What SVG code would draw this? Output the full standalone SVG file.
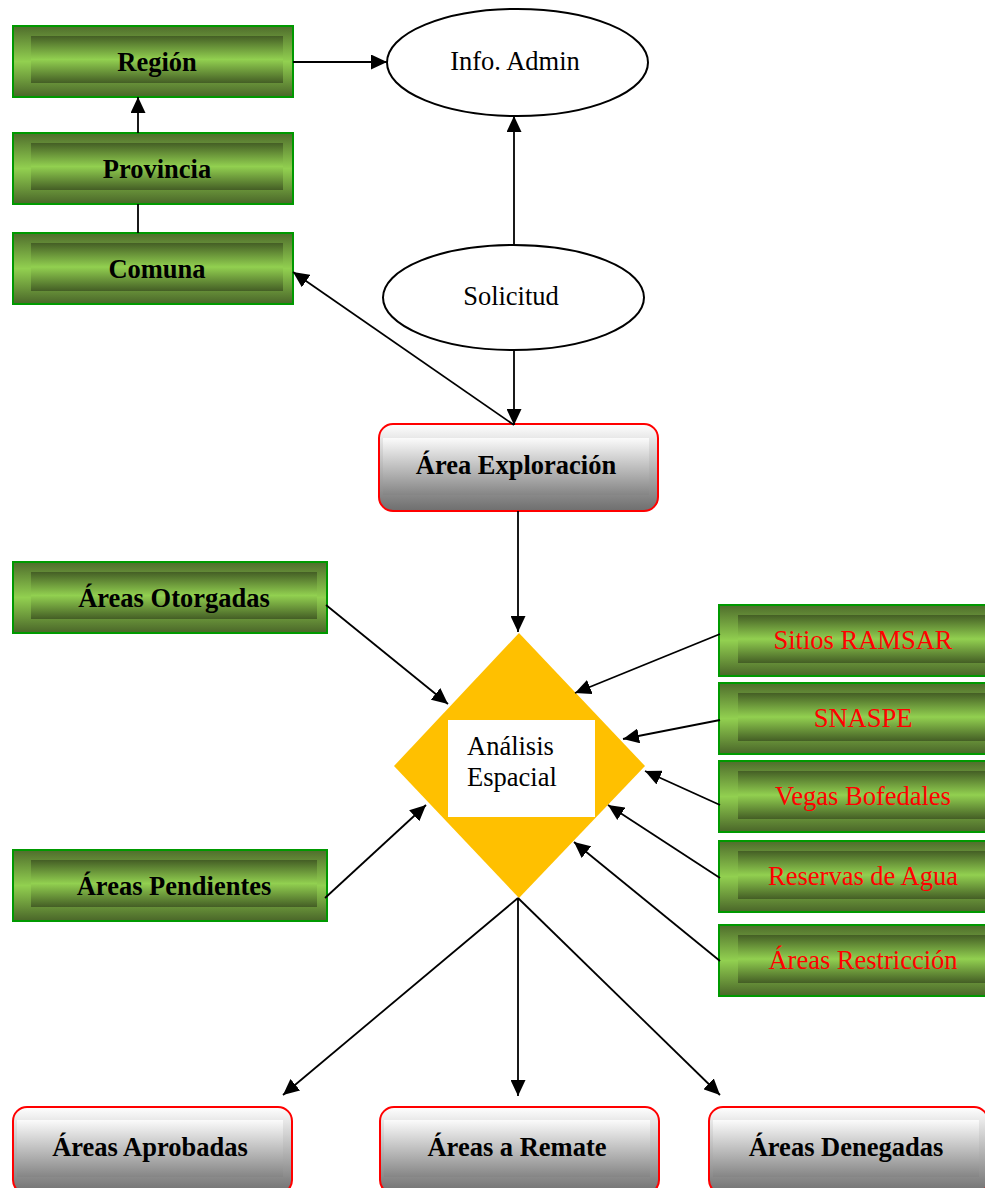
<svg xmlns="http://www.w3.org/2000/svg" width="985" height="1188" viewBox="0 0 985 1188">
  <defs>
    <linearGradient id="gOuter" x1="0" y1="0" x2="0" y2="1">
      <stop offset="0" stop-color="#4f6d2c"/>
      <stop offset="0.5" stop-color="#92d050"/>
      <stop offset="1" stop-color="#4a6629"/>
    </linearGradient>
    <linearGradient id="gInner" x1="0" y1="0" x2="0" y2="1">
      <stop offset="0" stop-color="#445e25"/>
      <stop offset="0.5" stop-color="#92d050"/>
      <stop offset="1" stop-color="#445e25"/>
    </linearGradient>
    <linearGradient id="rOuter" x1="0" y1="0" x2="0" y2="1">
      <stop offset="0" stop-color="#ffffff"/>
      <stop offset="1" stop-color="#6e6e6e"/>
    </linearGradient>
    <linearGradient id="rInner" x1="0" y1="0" x2="0" y2="1">
      <stop offset="0" stop-color="#fbfbfb"/>
      <stop offset="1" stop-color="#858585"/>
    </linearGradient>
    <marker id="arrow" markerUnits="userSpaceOnUse" markerWidth="16" markerHeight="15" refX="16" refY="7.5" orient="auto">
      <path d="M0,0 L16,7.5 L0,15 z" fill="#000"/>
    </marker>
    <style>
      text { font-family: "Liberation Serif", "Times New Roman", serif; font-size: 26.5px; }
      .b { font-weight: bold; fill: #000; }
      .red { fill: #ff0000; }
      .reg { fill: #000; }
      .gOut { fill: url(#gOuter); stroke: #009900; stroke-width: 2; }
      .gIn { fill: url(#gInner); }
      .rOut { fill: url(#rOuter); stroke: #ff0000; stroke-width: 2; }
      .rIn { fill: url(#rInner); }
      .ell { fill: #fff; stroke: #000; stroke-width: 2; }
      .con line { stroke: #000; stroke-width: 1.8; }
      .con .a { marker-end: url(#arrow); }
    </style>
  </defs>

  <rect width="985" height="1188" fill="#fff"/>

  <!-- administrative hierarchy -->
  <g id="region">
    <rect class="gOut" x="13" y="26" width="280" height="71"/>
    <rect class="gIn" x="31" y="36" width="252" height="47"/>
    <text class="b" x="157" y="71" text-anchor="middle">Región</text>
  </g>
  <g id="provincia">
    <rect class="gOut" x="13" y="133" width="280" height="71"/>
    <rect class="gIn" x="31" y="143" width="252" height="47"/>
    <text class="b" x="157" y="178" text-anchor="middle">Provincia</text>
  </g>
  <g id="comuna">
    <rect class="gOut" x="13" y="233" width="280" height="71"/>
    <rect class="gIn" x="31" y="243" width="252" height="48"/>
    <text class="b" x="157" y="278" text-anchor="middle">Comuna</text>
  </g>

  <g id="info-admin">
    <ellipse class="ell" cx="517.5" cy="62.5" rx="130.5" ry="53.5"/>
    <text class="reg" x="515" y="70" text-anchor="middle">Info. Admin</text>
  </g>
  <g id="solicitud">
    <ellipse class="ell" cx="513.5" cy="297.5" rx="130.5" ry="52.5"/>
    <text class="reg" x="511" y="305" text-anchor="middle">Solicitud</text>
  </g>

  <g id="area-exploracion">
    <rect class="rOut" x="379" y="424" width="279" height="87" rx="14"/>
    <rect class="rIn" x="383" y="438" width="266" height="57"/>
    <text class="b" x="516" y="474" text-anchor="middle">Área Exploración</text>
  </g>

  <!-- spatial analysis -->
  <g id="analisis">
    <polygon points="519,633 645,766 519,898 394,766" fill="#ffc000"/>
    <rect x="448" y="720" width="147" height="97" fill="#fff"/>
    <text class="reg" x="467" y="755">Análisis</text>
    <text class="reg" x="467" y="786">Espacial</text>
  </g>

  <g id="areas-otorgadas">
    <rect class="gOut" x="13" y="562" width="314" height="71"/>
    <rect class="gIn" x="31" y="572" width="286" height="47"/>
    <text class="b" x="174" y="607" text-anchor="middle">Áreas Otorgadas</text>
  </g>
  <g id="areas-pendientes">
    <rect class="gOut" x="13" y="850" width="314" height="71"/>
    <rect class="gIn" x="31" y="860" width="286" height="47"/>
    <text class="b" x="174" y="895" text-anchor="middle">Áreas Pendientes</text>
  </g>

  <!-- restriction layers -->
  <g id="sitios-ramsar">
    <rect class="gOut" x="719" y="605" width="282" height="71"/>
    <rect class="gIn" x="738" y="615" width="253" height="48"/>
    <text class="red" x="863" y="649" text-anchor="middle">Sitios RAMSAR</text>
  </g>
  <g id="snaspe">
    <rect class="gOut" x="719" y="683" width="282" height="71"/>
    <rect class="gIn" x="738" y="693" width="253" height="48"/>
    <text class="red" x="863" y="727" text-anchor="middle">SNASPE</text>
  </g>
  <g id="vegas-bofedales">
    <rect class="gOut" x="719" y="761" width="282" height="71"/>
    <rect class="gIn" x="738" y="771" width="253" height="48"/>
    <text class="red" x="863" y="805" text-anchor="middle">Vegas Bofedales</text>
  </g>
  <g id="reservas-agua">
    <rect class="gOut" x="719" y="841" width="282" height="71"/>
    <rect class="gIn" x="738" y="851" width="253" height="48"/>
    <text class="red" x="863" y="885" text-anchor="middle">Reservas de Agua</text>
  </g>
  <g id="areas-restriccion">
    <rect class="gOut" x="719" y="925" width="282" height="71"/>
    <rect class="gIn" x="738" y="935" width="253" height="48"/>
    <text class="red" x="863" y="969" text-anchor="middle">Áreas Restricción</text>
  </g>

  <!-- outcomes -->
  <g id="areas-aprobadas">
    <rect class="rOut" x="13" y="1107" width="279" height="87" rx="14"/>
    <rect class="rIn" x="17" y="1120" width="266" height="57"/>
    <text class="b" x="150" y="1156" text-anchor="middle">Áreas Aprobadas</text>
  </g>
  <g id="areas-remate">
    <rect class="rOut" x="380" y="1107" width="279" height="87" rx="14"/>
    <rect class="rIn" x="384" y="1120" width="266" height="57"/>
    <text class="b" x="517" y="1156" text-anchor="middle">Áreas a Remate</text>
  </g>
  <g id="areas-denegadas">
    <rect class="rOut" x="709" y="1107" width="279" height="87" rx="14"/>
    <rect class="rIn" x="713" y="1120" width="266" height="57"/>
    <text class="b" x="846" y="1156" text-anchor="middle">Áreas Denegadas</text>
  </g>

  <!-- connectors -->
  <g id="connectors" class="con">
    <line class="a" x1="293" y1="62" x2="387" y2="62"/>
    <line class="a" x1="138" y1="133" x2="138" y2="97"/>
    <line x1="138" y1="233" x2="138" y2="204"/>
    <line class="a" x1="514" y1="245" x2="514" y2="116"/>
    <line class="a" x1="514" y1="350" x2="514" y2="425"/>
    <line class="a" x1="514" y1="425" x2="293" y2="272"/>
    <line class="a" x1="518" y1="511" x2="518" y2="632"/>
    <line class="a" x1="326" y1="605" x2="448" y2="704"/>
    <line class="a" x1="325" y1="898" x2="426" y2="805"/>
    <line class="a" x1="720" y1="634" x2="575" y2="693"/>
    <line class="a" x1="720" y1="720" x2="623" y2="739"/>
    <line class="a" x1="720" y1="805" x2="645" y2="771"/>
    <line class="a" x1="720" y1="878" x2="608" y2="805"/>
    <line class="a" x1="720" y1="961" x2="574" y2="842"/>
    <line class="a" x1="518" y1="898" x2="283" y2="1095"/>
    <line class="a" x1="518" y1="898" x2="518" y2="1096"/>
    <line class="a" x1="518" y1="898" x2="720" y2="1095"/>
  </g>
</svg>
